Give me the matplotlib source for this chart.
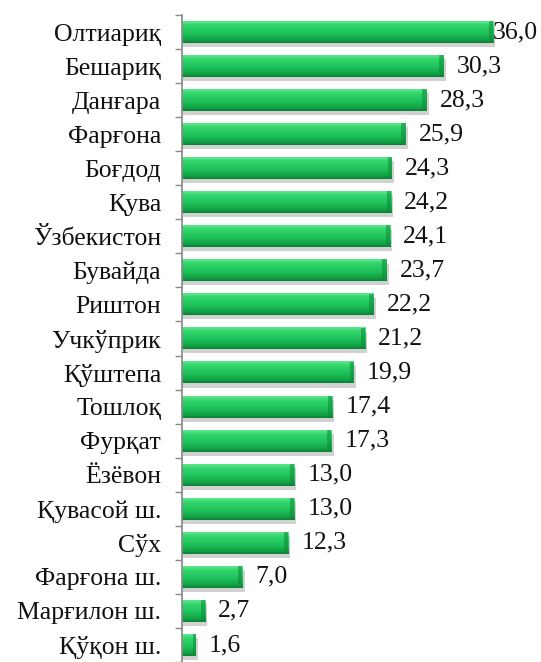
import numpy as np
import matplotlib
matplotlib.use("Agg")
import matplotlib.pyplot as plt
from matplotlib.colors import LinearSegmentedColormap

categories = ["Олтиариқ", "Бешариқ", "Данғара", "Фарғона", "Боғдод", "Қува",
              "Ўзбекистон", "Бувайда", "Риштон", "Учкўприк", "Қўштепа", "Тошлоқ",
              "Фурқат", "Ёзёвон", "Қувасой ш.", "Сўх", "Фарғона ш.", "Марғилон ш.", "Қўқон ш."]
values = [36.0, 30.3, 28.3, 25.9, 24.3, 24.2, 24.1, 23.7, 22.2, 21.2, 19.9, 17.4,
          17.3, 13.0, 13.0, 12.3, 7.0, 2.7, 1.6]

plt.rcParams['font.family'] = ['Liberation Serif', 'DejaVu Serif']

fig = plt.figure(figsize=(5.41, 6.62), dpi=100)
ax = fig.add_axes([182/541, 0.0, 1 - 182/541, 1 - 15/662])

n = len(categories)
ypos = np.arange(n)
h = 0.64

cmap = LinearSegmentedColormap.from_list("g", [
    (0.0, "#5fe88e"), (0.18, "#33d66c"), (0.55, "#1ec25a"), (0.85, "#13a347"), (1.0, "#0c7f36")])
grad = np.linspace(0, 1, 64).reshape(-1, 1)

for y, v in zip(ypos, values):
    # shadow
    ax.barh(y + 0.12, v + 0.25, height=h, left=0.0, color="#9a9a9a", alpha=0.45,
            edgecolor="none", zorder=1)
    ax.imshow(grad, cmap=cmap, aspect="auto", extent=(0, v, y + h/2, y - h/2),
              zorder=2, interpolation="bilinear")
    # end cap darker
    ax.barh(y, min(0.5, v*0.2), left=v - min(0.5, v*0.2), height=h,
            color="#0d8a3a", alpha=0.55, edgecolor="none", zorder=3)
    off = 0.0 if v == max(values) else 1.5
    ax.text(v + off, y, f"{v:.1f}".replace(".", ","), va="center", ha="left",
            fontsize=18.5, color="#111111", zorder=4)

ax.set_xlim(0, 41.55)
ax.set_ylim(n - 0.5, -0.5)
ax.set_yticks(ypos)
ax.set_yticklabels(categories, fontsize=18.5, color="#111111")
ax.set_yticks(np.arange(-0.5, n, 1.0), minor=True)
ax.tick_params(axis="y", which="major", length=0, pad=15)
ax.tick_params(axis="y", which="minor", length=5, color="#888888", width=1)
ax.set_xticks([])
for s in ["top", "right", "bottom"]:
    ax.spines[s].set_visible(False)
ax.spines["left"].set_color("#888888")
ax.spines["left"].set_linewidth(1.2)

fig.savefig("out.png", dpi=100)
